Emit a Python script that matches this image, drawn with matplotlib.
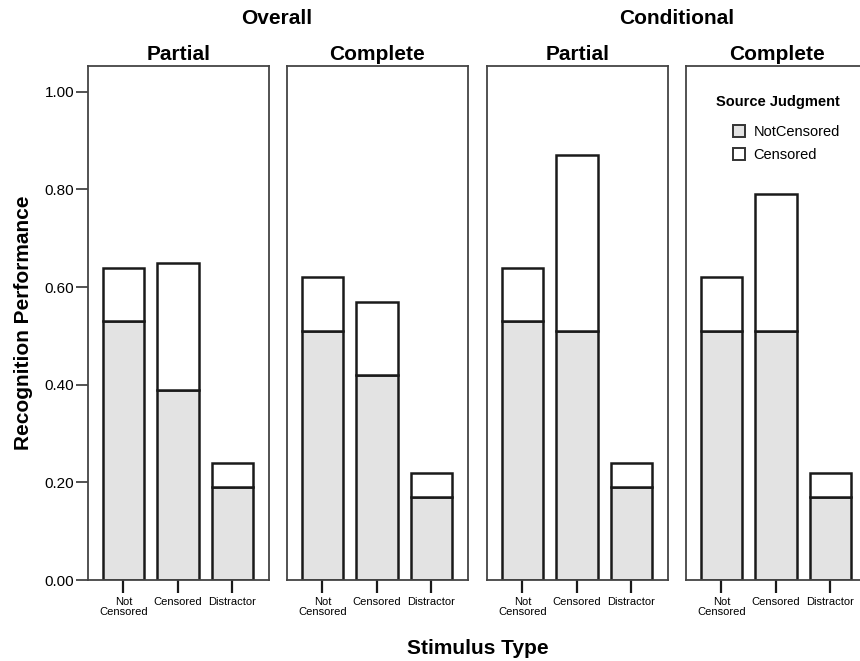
import matplotlib.pyplot as plt
from matplotlib.patches import Patch

plt.rcParams['font.family'] = ['Liberation Sans', 'DejaVu Sans']

categories = ["Not\nCensored", "Censored", "Distractor"]
panel_titles = ["Partial", "Complete", "Partial", "Complete"]
group_titles = ["Overall", "Conditional"]

# NotCensored part (bottom) and Censored part (top) for each panel
not_censored = [
    [0.53, 0.39, 0.19],
    [0.51, 0.42, 0.17],
    [0.53, 0.51, 0.19],
    [0.51, 0.51, 0.17],
]
censored = [
    [0.11, 0.26, 0.05],
    [0.11, 0.15, 0.05],
    [0.11, 0.36, 0.05],
    [0.11, 0.28, 0.05],
]

fill_nc = "#e3e3e3"
fill_c = "white"
edge = "#1a1a1a"

fig = plt.figure(figsize=(8.6, 6.61), dpi=100)
lefts = [88, 287, 487, 686]
axes = []
for i, left in enumerate(lefts):
    ax = fig.add_axes([left / 860, 81 / 661, 181 / 860, 514 / 661])
    x = range(len(categories))
    ax.bar(x, not_censored[i], width=0.76, color=fill_nc, edgecolor=edge, linewidth=1.8)
    ax.bar(x, censored[i], bottom=not_censored[i], width=0.76, color=fill_c,
           edgecolor=edge, linewidth=1.8)
    ax.set_xlim(-0.65, 2.67)
    ax.set_ylim(0, 1.053)
    ax.set_xticks(list(x))
    ax.set_xticklabels(categories, fontsize=8, linespacing=1.05)
    ax.tick_params(axis='x', direction='out', length=9, width=1.6, color=edge, pad=3)
    for s in ax.spines.values():
        s.set_color("#444444")
        s.set_linewidth(1.3)
    ax.set_title(panel_titles[i], fontsize=15, fontweight='bold', pad=4)
    if i == 0:
        ax.set_yticks([0, 0.2, 0.4, 0.6, 0.8, 1.0])
        ax.set_yticklabels(["0.00", "0.20", "0.40", "0.60", "0.80", "1.00"], fontsize=11)
        ax.tick_params(axis='y', direction='out', length=9, width=1.3, color="#444444", pad=1)
        ax.set_ylabel("Recognition Performance", fontsize=15, fontweight='bold', labelpad=8)
    else:
        ax.set_yticks([])
    axes.append(ax)

fig.text(277 / 860, 1 - 19 / 661, group_titles[0], fontsize=15, fontweight='bold',
         ha='center', va='center')
fig.text(677 / 860, 1 - 19 / 661, group_titles[1], fontsize=15, fontweight='bold',
         ha='center', va='center')
fig.text(478 / 860, 1 - 648 / 661, "Stimulus Type", fontsize=15, fontweight='bold',
         ha='center', va='center')

# legend in last panel
lx = (840 - 686) / 181
axes[3].text(lx, (580 - 102) / 514, "Source Judgment", transform=axes[3].transAxes,
             ha='right', va='center', fontsize=10.5, fontweight='bold')
handles = [Patch(facecolor=fill_nc, edgecolor="#333333", linewidth=1.4, label="NotCensored"),
           Patch(facecolor=fill_c, edgecolor="#333333", linewidth=1.4, label="Censored")]
axes[3].legend(handles=handles, frameon=False, loc='upper right',
               bbox_to_anchor=(lx, (580 - 125) / 514), borderpad=0, borderaxespad=0,
               fontsize=10.5, handlelength=0.8, handleheight=0.8, handletextpad=0.6,
               labelspacing=0.62)

fig.savefig("out.png", dpi=100)
